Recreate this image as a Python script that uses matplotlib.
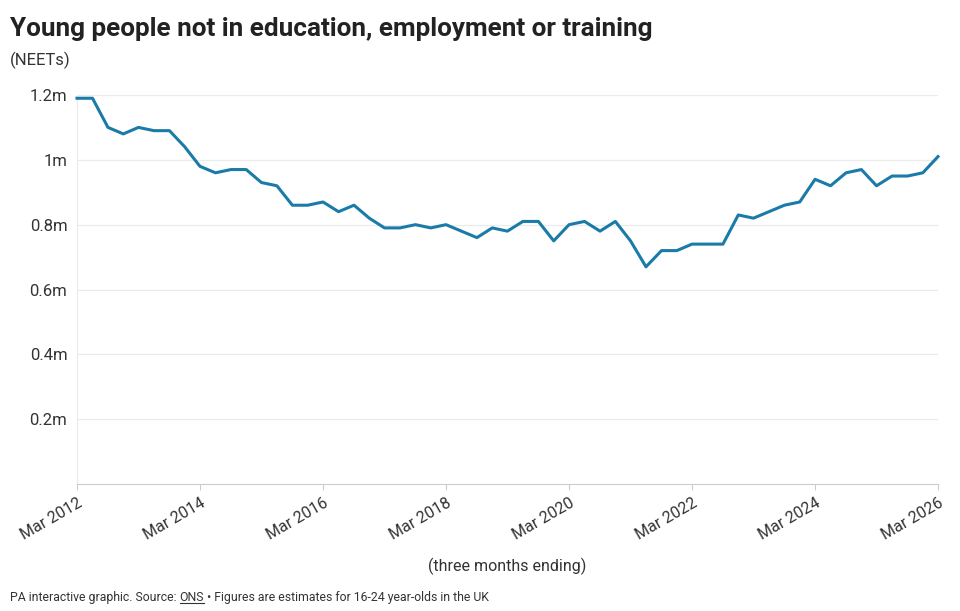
import pandas as pd
import matplotlib
matplotlib.use("Agg")
from matplotlib import pyplot as plt
from matplotlib.lines import Line2D

# quarterly, three months ending Mar 2012 .. Mar 2026 (millions)
neets = [1.19, 1.19, 1.10, 1.08, 1.10, 1.09, 1.09, 1.04,
         0.98, 0.96, 0.97, 0.97, 0.93, 0.92, 0.86, 0.86,
         0.87, 0.84, 0.86, 0.82, 0.79, 0.79, 0.80, 0.79,
         0.80, 0.78, 0.76, 0.79, 0.78, 0.81, 0.81, 0.75,
         0.80, 0.81, 0.78, 0.81, 0.75, 0.67, 0.72, 0.72,
         0.74, 0.74, 0.74, 0.83, 0.82, 0.84, 0.86, 0.87,
         0.94, 0.92, 0.96, 0.97, 0.92, 0.95, 0.95, 0.96,
         1.01]
dates = pd.date_range('2012-03-01', periods=len(neets), freq='3MS')
ytick_vals = [0.2, 0.4, 0.6, 0.8, 1.0, 1.2]
ytick_labels = ['0.2m', '0.4m', '0.6m', '0.8m', '1m', '1.2m']
xtick_years = list(range(2012, 2027, 2))

plt.rcParams['font.family'] = ['Roboto', 'DejaVu Sans']
txt = '#333333'
grid_c = '#ebebeb'

fig = plt.figure(figsize=(9.6, 6.11), dpi=100, facecolor='w')
ax = fig.add_axes([77/960, 1-484/611, (938-77)/960, (484-95)/611])

ax.plot(dates, neets, color='#1a7ba8', lw=2.2, clip_on=False, zorder=3,
        solid_joinstyle='round')

ax.set_xlim(dates[0], dates[-1])
ax.set_ylim(0, 1.2)
ax.set_yticks(ytick_vals)
ax.set_yticklabels(ytick_labels)
xt = [pd.Timestamp(f'{y}-03-01') for y in xtick_years]
ax.set_xticks(xt)
ax.set_xticklabels([f'Mar {y}' for y in xtick_years], rotation=30,
                   ha='right', rotation_mode='anchor')
ax.grid(axis='y', color=grid_c, lw=0.9)
ax.set_axisbelow(True)
for s in ['top', 'right']:
    ax.spines[s].set_visible(False)
ax.spines['left'].set_color(grid_c)
ax.spines['bottom'].set_color('#cccccc')
ax.tick_params(axis='y', length=0, pad=7, labelsize=12, labelcolor=txt)
ax.tick_params(axis='x', length=4, color='#cccccc', pad=4, labelsize=11.5,
               labelcolor=txt)

ax.set_xlabel('(three months ending)', fontsize=11.5, color=txt, labelpad=11)

fig.text(10/960, 1-36/611, 'Young people not in education, employment or training',
         fontsize=18.8, fontweight='bold', color='#222222', ha='left',
         va='baseline')
fig.text(10/960, 1-65/611, '(NEETs)', fontsize=12, color=txt, ha='left',
         va='baseline')

# footer with underlined source link
r = fig.canvas.get_renderer()
fy = 1-601/611
fs = 8.8
t1 = fig.text(10/960, fy, 'PA interactive graphic. Source: ', fontsize=fs,
              color=txt, va='baseline')
bb = t1.get_window_extent(r)
t2 = fig.text(bb.x1/960, fy, 'ONS', fontsize=fs, color=txt, va='baseline')
bb2 = t2.get_window_extent(r)
fig.add_artist(Line2D([bb2.x0/960, bb2.x1/960], [fy-2/611, fy-2/611],
                      color=txt, lw=0.8, transform=fig.transFigure))
fig.text(bb2.x1/960, fy, ' \u2022 Figures are estimates for 16-24 year-olds in the UK',
         fontsize=fs, color=txt, va='baseline')

fig.savefig('out.png', dpi=100)
